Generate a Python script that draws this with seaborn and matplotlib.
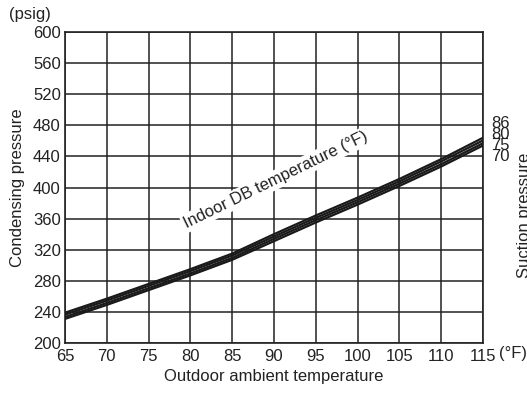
import pandas as pd
import numpy as np
import matplotlib.pyplot as plt
import seaborn as sns

# --- DATA ---
outdoor_temp = [65, 70, 75, 80, 85, 90, 95, 100, 105, 110, 115]
press_70 = [231, 249, 268, 287, 307, 331, 355, 378, 402, 427, 454]
press_75 = [233.5, 251.5, 270.5, 289.5, 309.5, 334, 358, 381, 405, 430, 457]
press_80 = [236.5, 254.5, 273.5, 292.5, 312.5, 337, 361, 384, 408, 433.5, 460.5]
press_86 = [239, 257, 276, 295, 315, 340, 364, 387, 411, 436.5, 464]
indoor_labels = ["86", "80", "75", "70"]

df = pd.DataFrame(
    {
        "Outdoor": outdoor_temp * 4,
        "Pressure": press_70 + press_75 + press_80 + press_86,
        "Indoor": ["70"] * 11 + ["75"] * 11 + ["80"] * 11 + ["86"] * 11,
    }
)

# --- PLOT ---
sns.set_theme(style="white")
plt.rcParams["font.family"] = ["Liberation Sans", "DejaVu Sans"]
ink = "#222222"
fs = 12

fig = plt.figure(figsize=(5.27, 3.94), dpi=100)
ax = fig.add_axes([0.1233, 0.1294, 0.7932, 0.7894])

sns.lineplot(
    data=df,
    x="Outdoor",
    y="Pressure",
    units="Indoor",
    estimator=None,
    color="#1a1a1a",
    linewidth=1.6,
    ax=ax,
    zorder=3,
)

ax.set_xlim(65, 115)
ax.set_ylim(200, 600)
ax.set_xticks(range(65, 116, 5))
ax.set_yticks(range(200, 601, 40))
ax.grid(True, color=ink, linewidth=1.1)
for s in ax.spines.values():
    s.set_color(ink)
    s.set_linewidth(1.2)
ax.tick_params(axis="y", length=0, labelsize=fs, colors=ink, pad=3)
ax.tick_params(axis="x", length=0, labelsize=fs, colors=ink, pad=4)
ax.set_xlabel("Outdoor ambient temperature", fontsize=fs, color=ink, labelpad=4)
ax.set_ylabel("Condensing pressure", fontsize=fs, color=ink, labelpad=6)

ax.text(
    90.2, 410, "Indoor DB temperature (\u00b0F)",
    rotation=26, ha="center", va="center", fontsize=fs, color=ink,
    bbox=dict(facecolor="white", edgecolor="none", pad=1.5), zorder=4,
)

fig.text(0.949, 0.645, "\n".join(indoor_labels), fontsize=fs, color=ink,
         ha="center", va="center", linespacing=0.68)

fig.text(0.057, 0.963, "(psig)", fontsize=fs, color=ink, ha="center", va="center")
fig.text(0.973, 0.102, "(\u00b0F)", fontsize=fs, color=ink, ha="center", va="center")
fig.text(0.995, 0.454, "Suction pressure", fontsize=fs, color=ink,
         rotation=90, ha="center", va="center")

fig.savefig("out.png", dpi=100)
